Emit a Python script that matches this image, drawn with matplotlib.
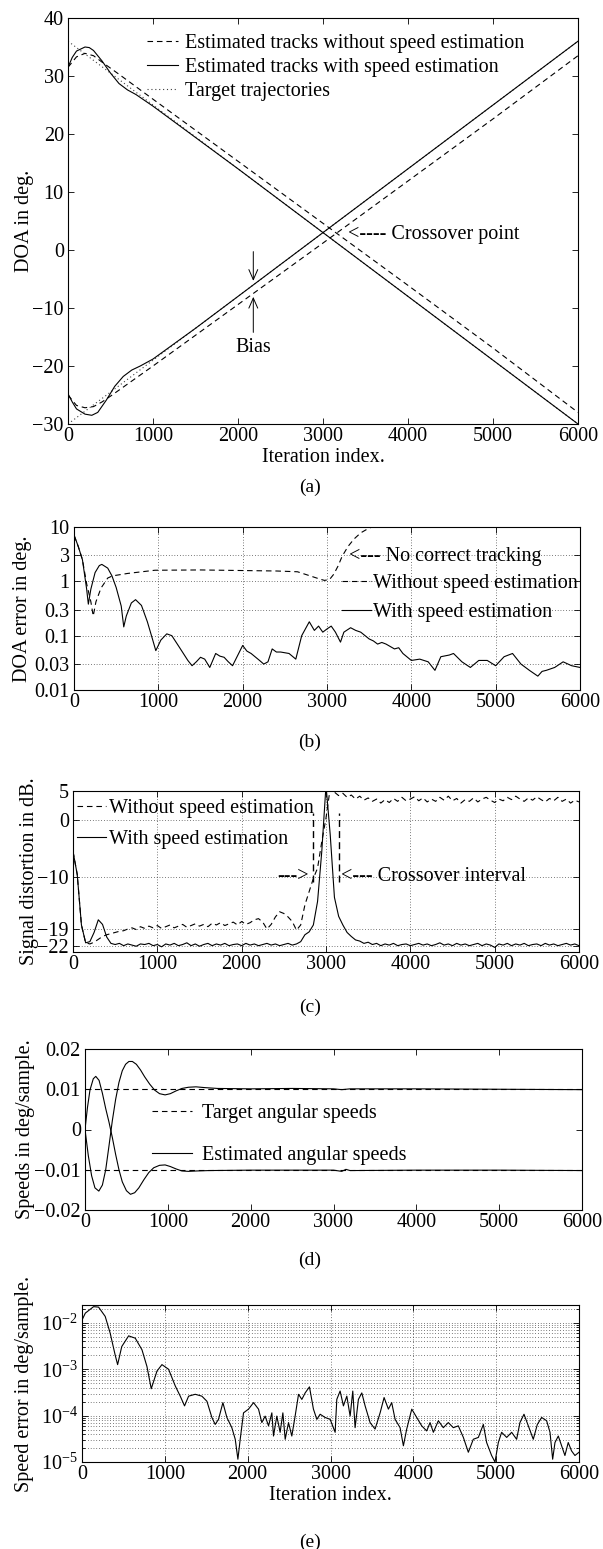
import numpy as np
import matplotlib
matplotlib.use("Agg")
import matplotlib.pyplot as plt
from matplotlib.lines import Line2D
from matplotlib.ticker import FixedLocator, NullLocator, LogLocator, NullFormatter

plt.rcParams['font.family'] = ['Liberation Serif', 'DejaVu Serif']
plt.rcParams['mathtext.fontset'] = 'custom'
plt.rcParams['mathtext.rm'] = 'Liberation Serif'
plt.rcParams['font.size'] = 14.5
plt.rcParams['axes.linewidth'] = 0.8

W, H = 603, 1549
FS = 14.5
DASH = (5, 3.5)
LW = 0.8

# ---------------- (a) DOA tracks ----------------
target_t = [0, 6000]
target_down = [36, -30]
target_up = [-30, 36]

with_down = np.array([
    (0, 31.5), (50, 33.2), (100, 34.3), (200, 35.0), (250, 34.9), (300, 34.4),
    (400, 32.6), (500, 30.5), (600, 28.7), (700, 27.6), (800, 26.8), (1000, 24.8),
    (2000, 14.0), (3000, 3.0), (4000, -8.0), (5000, -19.0), (6000, -30.0)])
with_up = np.array([
    (0, -24.8), (50, -26.2), (100, -27.4), (200, -28.3), (280, -28.5), (350, -28.0),
    (450, -25.9), (550, -23.5), (650, -21.8), (750, -20.7), (850, -20.0), (1000, -18.8),
    (1500, -13.5), (2000, -8.0), (3000, 3.0), (4000, 14.0), (5000, 25.0), (6000, 36.0)])
without_down = np.array([
    (0, 31.5), (100, 33.3), (200, 33.9), (300, 33.5), (400, 32.4), (600, 30.3),
    (1000, 26.0), (2000, 15.3), (3000, 4.6), (4000, -6.1), (5000, -16.9), (6000, -28.0)])
without_up = np.array([
    (0, -25.0), (100, -26.8), (200, -27.2), (300, -27.0), (400, -26.2), (500, -25.2),
    (1000, -20.0), (2000, -9.4), (3000, 1.2), (4000, 11.9), (5000, 22.6), (6000, 33.5)])

# ---------------- (b) DOA error ----------------
doa_err_with = np.array([
    (0, 7.2), (50, 4.4), (100, 2.5), (150, 0.72), (170, 0.38), (200, 0.72), (250, 1.45),
    (300, 1.95), (330, 2.05), (400, 1.75), (450, 1.26), (500, 0.77), (560, 0.35),
    (590, 0.145), (620, 0.23), (680, 0.4), (730, 0.46), (800, 0.36), (870, 0.18),
    (930, 0.087), (970, 0.053), (1030, 0.083), (1100, 0.108), (1160, 0.1), (1250, 0.061),
    (1350, 0.035), (1400, 0.028), (1450, 0.033), (1500, 0.04), (1550, 0.037), (1610, 0.026),
    (1680, 0.047), (1730, 0.042), (1780, 0.04), (1830, 0.033), (1880, 0.028), (2000, 0.066),
    (2050, 0.052), (2100, 0.047), (2200, 0.035), (2250, 0.03), (2300, 0.033), (2350, 0.057),
    (2400, 0.05), (2450, 0.05), (2550, 0.047), (2630, 0.037), (2700, 0.1), (2790, 0.18),
    (2850, 0.125), (2900, 0.15), (2950, 0.116), (3000, 0.133), (3050, 0.15), (3100, 0.116),
    (3160, 0.076), (3200, 0.116), (3280, 0.14), (3340, 0.125), (3400, 0.116), (3500, 0.087),
    (3550, 0.08), (3600, 0.07), (3650, 0.075), (3700, 0.07), (3800, 0.057), (3850, 0.06),
    (3900, 0.047), (4000, 0.035), (4100, 0.037), (4200, 0.033), (4280, 0.023), (4350, 0.041),
    (4450, 0.044), (4500, 0.047), (4600, 0.033), (4700, 0.026), (4800, 0.035), (4900, 0.035),
    (5000, 0.028), (5100, 0.041), (5200, 0.047), (5300, 0.03), (5400, 0.023), (5500, 0.018),
    (5550, 0.022), (5600, 0.023), (5700, 0.026), (5800, 0.033), (5900, 0.028), (6000, 0.026)])
doa_err_without = np.array([
    (0, 7.0), (50, 4.4), (100, 2.5), (150, 0.9), (200, 0.42), (228, 0.23), (260, 0.42),
    (320, 0.75), (400, 1.15), (456, 1.26), (640, 1.4), (960, 1.6), (1500, 1.62),
    (2000, 1.58), (2400, 1.55), (2650, 1.5), (2800, 1.26), (2900, 1.12), (2970, 1.04),
    (3030, 1.08), (3080, 1.35), (3130, 1.9), (3180, 2.9), (3250, 4.4), (3320, 6.0),
    (3400, 7.8), (3480, 9.2), (3550, 10.3), (3650, 11.5), (4000, 13.0), (6000, 13.0)])

# ---------------- (c) signal distortion ----------------
dist_t = np.arange(0, 6001, 50)
dist_with = [
    -5.5, -9.5, -18.3, -21.4, -21.2, -19.6, -17.4, -18.2, -20.4, -21.5,
    -21.7, -21.5, -21.9, -21.6, -21.8, -22.0, -21.6, -21.7, -21.5, -21.9,
    -21.7, -22.1, -21.6, -21.8, -21.5, -21.9, -21.7, -21.4, -21.9, -21.6,
    -22.0, -21.7, -21.5, -21.9, -21.6, -21.8, -21.5, -21.9, -21.7, -21.6,
    -21.9, -21.5, -21.8, -21.6, -21.9, -21.7, -21.5, -21.8, -21.6, -21.9,
    -21.7, -21.5, -21.8, -21.6, -21.2, -20.0, -19.5, -18.3, -14.2, -5.5,
    6.0, -2.6, -13.5, -16.8, -18.3, -19.6, -20.3, -20.9, -21.1, -21.5,
    -21.3, -21.7, -21.5, -21.9, -21.6, -21.8, -21.5, -21.9, -21.7, -21.6,
    -21.9, -21.7, -21.5, -21.8, -21.6, -21.9, -21.7, -21.4, -21.8, -21.6,
    -21.9, -21.5, -21.8, -21.6, -21.9, -21.7, -21.5, -21.9, -21.6, -21.8,
    -22.2, -21.6, -21.8, -21.5, -21.9, -21.6, -21.8, -21.5, -21.9, -21.7,
    -21.6, -21.9, -21.5, -21.8, -21.6, -21.9, -21.7, -21.5, -21.8, -21.6,
    -21.9]
dist_without = [
    -5.5, -9.5, -18.3, -21.4, -21.6, -21.3, -20.8, -20.3, -20.0, -19.8,
    -19.6, -19.4, -19.3, -19.0, -18.8, -19.1, -18.6, -18.9, -18.5, -18.8,
    -18.4, -18.9, -18.6, -18.3, -18.8, -18.5, -18.2, -18.7, -18.4, -18.1,
    -18.5, -18.2, -18.6, -18.0, -18.3, -17.9, -18.4, -18.1, -17.8, -18.3,
    -17.7, -18.2, -17.9, -17.4, -17.2, -17.8, -19.0, -18.2, -16.9, -16.0,
    -16.3, -16.9, -17.7, -19.2, -18.3, -14.8, -12.5, -10.2, -8.4, -3.8,
    0.3, 5.5, 4.8, 4.2, 4.6, 3.9, 4.3, 3.6, 4.1, 3.4,
    3.8, 3.2, 3.6, 2.9, 3.5, 3.0, 3.7, 3.2, 3.9, 3.3,
    3.6, 4.0, 3.3, 3.8, 3.1, 3.6, 3.2, 3.9, 3.4, 4.1,
    3.3, 3.7, 2.9, 3.5, 3.2, 3.8, 3.1, 3.6, 3.9, 3.4,
    3.0, 3.6, 3.3, 3.9, 3.5, 4.1, 3.6, 3.2, 3.8, 3.4,
    4.0, 3.5, 3.1, 3.7, 3.3, 3.9, 3.2, 3.6, 2.9, 3.4,
    3.1]
interval_marks = [2850, 3150]

# ---------------- (d) angular speeds ----------------
target_speed_pos = [0.01, 0.01]
target_speed_neg = [-0.01, -0.01]
speed_est_pos = np.array([
    (0, 0.0), (40, -0.0065), (80, -0.0115), (120, -0.0145), (167, -0.0153), (210, -0.0138),
    (250, -0.0100), (290, -0.0040), (330, 0.0022), (370, 0.0075), (410, 0.0117),
    (450, 0.0146), (490, 0.0162), (530, 0.0169), (572, 0.0169), (620, 0.0162),
    (670, 0.0148), (720, 0.0131), (780, 0.0113), (840, 0.0098), (900, 0.0089),
    (967, 0.0086), (1030, 0.0089), (1100, 0.0096), (1170, 0.0102), (1250, 0.0105),
    (1340, 0.0106), (1450, 0.0104), (1600, 0.0102), (2000, 0.0101), (2500, 0.0102),
    (3000, 0.0101), (3100, 0.0099), (3200, 0.0101), (4000, 0.0101), (5000, 0.0100),
    (6000, 0.0099)])
speed_est_neg = np.array([
    (0, 0.0), (30, 0.0055), (60, 0.0098), (100, 0.0126), (130, 0.0132), (170, 0.0122),
    (210, 0.0090), (250, 0.0052), (290, 0.0018), (330, -0.0020), (370, -0.0062),
    (410, -0.0100), (450, -0.0130), (500, -0.0152), (549, -0.0161), (600, -0.0157),
    (650, -0.0145), (710, -0.0125), (770, -0.0107), (830, -0.0095), (900, -0.0089),
    (967, -0.0088), (1030, -0.0092), (1100, -0.0098), (1170, -0.0103), (1250, -0.0104),
    (1350, -0.0103), (1500, -0.0102), (2000, -0.0101), (3000, -0.0101), (3100, -0.0104),
    (3150, -0.0099), (3200, -0.0102), (4000, -0.0101), (5000, -0.0101), (6000, -0.0102)])

# ---------------- (e) speed error, log10 values ----------------
speed_err_log = np.array([
    (0, -1.94), (40, -1.79), (140, -1.65), (200, -1.66), (280, -1.86), (340, -2.22),
    (400, -2.69), (430, -2.90), (480, -2.51), (563, -2.28), (643, -2.33), (724, -2.58),
    (784, -2.94), (836, -3.42), (905, -3.04), (965, -2.90), (1045, -3.00), (1126, -3.36),
    (1186, -3.58), (1238, -3.79), (1287, -3.58), (1367, -3.54), (1447, -3.58),
    (1508, -3.69), (1568, -4.04), (1608, -4.19), (1648, -4.08), (1701, -3.72),
    (1749, -4.04), (1809, -4.26), (1850, -4.51), (1882, -4.94), (1910, -4.51),
    (1950, -3.94), (2010, -3.86), (2071, -3.72), (2131, -3.86), (2171, -4.15),
    (2211, -4.01), (2252, -4.22), (2292, -3.94), (2312, -4.44), (2352, -4.01),
    (2392, -4.36), (2425, -3.94), (2453, -4.51), (2493, -4.15), (2533, -4.44),
    (2573, -4.01), (2614, -3.54), (2654, -3.65), (2694, -3.51), (2746, -3.38),
    (2794, -3.86), (2835, -4.08), (2875, -3.97), (2935, -4.04), (2996, -4.08),
    (3056, -4.36), (3076, -3.65), (3116, -3.47), (3156, -3.79), (3197, -3.58),
    (3237, -4.01), (3269, -3.47), (3297, -4.26), (3337, -3.65), (3378, -3.51),
    (3418, -3.79), (3478, -4.15), (3538, -4.29), (3599, -3.94), (3647, -3.61),
    (3699, -3.86), (3739, -3.72), (3780, -4.08), (3840, -4.26), (3880, -4.65),
    (3920, -4.29), (3981, -3.86), (4041, -4.04), (4101, -4.22), (4161, -4.33),
    (4202, -4.15), (4242, -4.36), (4302, -4.11), (4362, -4.26), (4422, -4.15),
    (4483, -4.26), (4543, -4.22), (4604, -4.47), (4664, -4.79), (4724, -4.51),
    (4785, -4.47), (4845, -4.19), (4885, -4.58), (4945, -4.86), (4986, -5.00),
    (5026, -4.58), (5066, -4.36), (5127, -4.47), (5187, -4.36), (5247, -4.51),
    (5287, -4.15), (5336, -3.97), (5388, -4.22), (5448, -4.51), (5497, -4.19),
    (5549, -4.04), (5609, -4.11), (5650, -4.36), (5682, -4.94), (5710, -4.58),
    (5750, -4.44), (5790, -4.65), (5830, -4.86), (5870, -4.58), (5910, -4.76),
    (5951, -4.86), (6000, -4.79)])

x_ticks = [0, 1000, 2000, 3000, 4000, 5000, 6000]

fig = plt.figure(figsize=(W / 100, H / 100), dpi=100)


def make_axes(box):
    l, t, r, b = box
    ax = fig.add_axes([l / W, 1 - b / H, (r - l) / W, (b - t) / H])
    ax.set_xlim(0, 6000)
    ax.xaxis.set_major_locator(FixedLocator(x_ticks))
    ax.tick_params(which='both', direction='in', top=True, right=True, width=0.6,
                   labelsize=FS)
    ax.tick_params(which='major', length=4)
    ax.tick_params(which='minor', length=2)
    ax.tick_params(axis='x', pad=2)
    ax.tick_params(axis='y', pad=3)
    return ax


def ylabel_at(ax, box, text, x_px):
    l, t, r, b = box
    ax.set_ylabel(text, fontsize=FS, va='center')
    ax.yaxis.set_label_coords((x_px - l) / (r - l), 0.5)


def dotted_grid(ax, which='major', axis='both'):
    ax.grid(True, which=which, axis=axis, color='k', lw=0.5, linestyle=(0, (1, 3)))


def legend_at(ax, handles, labels, x, y, hl, pad, spacing):
    ax.legend(handles, labels, loc='upper left', bbox_to_anchor=(x, y), frameon=False,
              handlelength=hl, handletextpad=pad, labelspacing=spacing, borderpad=0,
              borderaxespad=0, fontsize=FS)


def caption(text, y_px):
    fig.text(310 / W, 1 - y_px / H, text, ha='center', va='center', fontsize=14)


# ---- (a)
box_a = (68, 18, 578, 424)
ax = make_axes(box_a)
ax.plot(target_t, target_down, color='0.25', lw=LW, dashes=(1, 2.5))
ax.plot(target_t, target_up, color='0.25', lw=LW, dashes=(1, 2.5))
ax.plot(without_down[:, 0], without_down[:, 1], 'k', lw=LW, dashes=DASH)
ax.plot(without_up[:, 0], without_up[:, 1], 'k', lw=LW, dashes=DASH)
ax.plot(with_down[:, 0], with_down[:, 1], 'k', lw=LW)
ax.plot(with_up[:, 0], with_up[:, 1], 'k', lw=LW)
ax.set_ylim(-30, 40)
ax.set_yticks(np.arange(-30, 41, 10))
ax.set_xlabel('Iteration index.', fontsize=FS, labelpad=0)
ax.xaxis.set_label_coords(0.5, 1 - (457 - 18) / (424 - 18))
ax.xaxis.label.set_va('center')
ylabel_at(ax, box_a, 'DOA in deg.', 25)
legend_at(ax,
          [Line2D([], [], color='k', lw=LW, dashes=DASH),
           Line2D([], [], color='k', lw=LW),
           Line2D([], [], color='0.25', lw=LW, dashes=(1, 2.5))],
          ['Estimated tracks without speed estimation',
           'Estimated tracks with speed estimation',
           'Target trajectories'],
          0.155, 0.961, 1.55, 0.35, 0.24)
arrow = dict(arrowstyle='->,head_length=0.5,head_width=0.22', color='k', lw=0.7)
ax.annotate('', xy=(2180, -5.8), xytext=(2180, 0.2), arrowprops=arrow)
ax.annotate('Bias', xy=(2180, -7.6), xytext=(2180, -16.8), ha='center', va='center',
            fontsize=FS, arrowprops=arrow)
ax.text(3300, 2.6, '<---- Crossover point', va='center', ha='left', fontsize=FS)
caption('(a)', 487)

# ---- (b)
box_b = (74, 527, 580, 690)
ax = make_axes(box_b)
dotted_grid(ax)
ax.set_yscale('log')
ax.set_ylim(0.01, 10)
b_ticks = [0.01, 0.03, 0.1, 0.3, 1, 3, 10]
ax.yaxis.set_major_locator(FixedLocator(b_ticks))
ax.yaxis.set_minor_locator(NullLocator())
ax.set_yticklabels(['0.01', '0.03', '0.1', '0.3', '1', '3', '10'])
ax.plot(doa_err_without[:, 0], doa_err_without[:, 1], 'k', lw=LW, dashes=DASH)
ax.plot(doa_err_with[:, 0], doa_err_with[:, 1], 'k', lw=LW)
ylabel_at(ax, box_b, 'DOA error in deg.', 23)
legend_at(ax,
          [Line2D([], [], color='k', lw=LW, dashes=DASH), Line2D([], [], color='k', lw=LW)],
          ['Without speed estimation', 'With speed estimation'],
          0.53, 0.712, 1.45, 0.1, 0.49)
ax.text(3257, 2.83, '<--- No correct tracking', va='center', ha='left', fontsize=FS)
caption('(b)', 742)

# ---- (c)
box_c = (73, 791, 579, 952)
ax = make_axes(box_c)
dotted_grid(ax)
ax.set_ylim(-23, 5)
ax.set_yticks([-22, -19, -10, 0, 5])
ax.plot(dist_t, dist_without, 'k', lw=LW, dashes=DASH)
ax.plot(dist_t, dist_with, 'k', lw=LW)
ax.vlines(interval_marks, -10.8, 1.2, colors='k', lw=1.0, linestyles=(0, (5, 3)))
ylabel_at(ax, box_c, 'Signal distortion in dB.', 30)
legend_at(ax,
          [Line2D([], [], color='k', lw=LW, dashes=DASH), Line2D([], [], color='k', lw=LW)],
          ['Without speed estimation', 'With speed estimation'],
          0.007, 0.950, 1.45, 0.15, 0.59)
ax.text(2419, -9.9, '--->', va='center', ha='left', fontsize=FS)
ax.text(3178, -9.9, '<--- Crossover interval', va='center', ha='left', fontsize=FS)
caption('(c)', 1007)

# ---- (d)
box_d = (85, 1049, 582, 1210)
ax = make_axes(box_d)
ax.set_ylim(-0.02, 0.02)
ax.set_yticks([-0.02, -0.01, 0, 0.01, 0.02])
ax.set_yticklabels(['\u22120.02', '\u22120.01', '0', '0.01', '0.02'])
ax.plot(target_t, target_speed_pos, 'k', lw=LW, dashes=DASH)
ax.plot(target_t, target_speed_neg, 'k', lw=LW, dashes=DASH)
ax.plot(speed_est_pos[:, 0], speed_est_pos[:, 1], 'k', lw=LW)
ax.plot(speed_est_neg[:, 0], speed_est_neg[:, 1], 'k', lw=LW)
ylabel_at(ax, box_d, 'Speeds in deg/sample.', 26)
legend_at(ax,
          [Line2D([], [], color='k', lw=LW, dashes=DASH), Line2D([], [], color='k', lw=LW)],
          ['Target angular speeds', 'Estimated angular speeds'],
          0.135, 0.658, 2.0, 0.5, 1.12)
caption('(d)', 1260)

# ---- (e)
box_e = (82, 1305, 579, 1462)
ax = make_axes(box_e)
ax.set_yscale('log')
ax.set_ylim(1e-5, 0.0243)
ax.yaxis.set_major_locator(FixedLocator([1e-5, 1e-4, 1e-3, 1e-2]))
ax.yaxis.set_minor_locator(LogLocator(base=10, subs=np.arange(2, 10), numticks=50))
ax.yaxis.set_minor_formatter(NullFormatter())
dotted_grid(ax, which='major', axis='x')
dotted_grid(ax, which='both', axis='y')
ax.plot(speed_err_log[:, 0], 10 ** speed_err_log[:, 1], 'k', lw=LW)
ax.set_xlabel('Iteration index.', fontsize=FS)
ax.xaxis.set_label_coords(0.5, 1 - (1495 - 1305) / (1462 - 1305))
ax.xaxis.label.set_va('center')
ylabel_at(ax, box_e, 'Speed error in deg/sample.', 25)
caption('(e)', 1542)

fig.savefig('out.png', dpi=100)
